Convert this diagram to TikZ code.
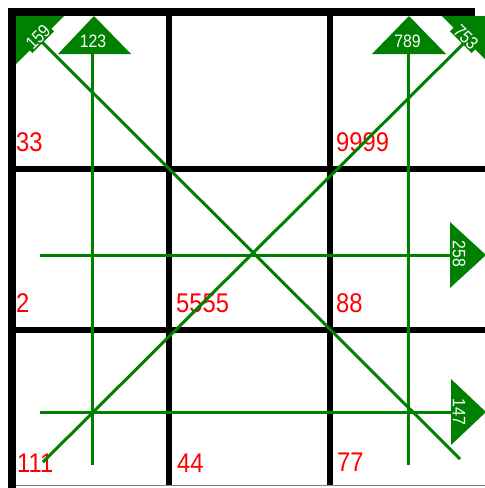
\documentclass[tikz,border=0pt]{standalone}
\usepackage{fontspec}
\newfontfamily\labfont[FakeStretch=0.88]{Liberation Sans}
\definecolor{gr}{RGB}{0,128,0}
\tikzset{
  cellnum/.style={anchor=base west, inner sep=0pt, text=red, font=\labfont\fontsize{27}{27}\selectfont},
  arrlbl/.style={inner sep=0pt, text=white, font=\labfont\fontsize{18}{18}\selectfont},
  arrlblbox/.style={inner xsep=2pt, inner ysep=1pt, fill=gr, text=white, font=\labfont\fontsize{18}{18}\selectfont},
  gline/.style={draw=gr, line width=3pt},
  ghead/.style={fill=gr},
  gridline/.style={fill=black}
}
\begin{document}
\begin{tikzpicture}[x=1pt,y=-1pt]
\useasboundingbox (0,0) rectangle (485,488);
\fill[white] (0,0) rectangle (485,488);
\clip (0,0) rectangle (485,488);
% grid
\fill[gridline] (8,8) rectangle (16,488);
\fill[gridline] (8,8) rectangle (475,16);
\fill[gridline] (166,16) rectangle (172,485);
\fill[gridline] (327,16) rectangle (333,485);
\fill[gridline] (16,166) rectangle (485,172);
\fill[gridline] (16,327) rectangle (485,333);
\draw[gray, line width=1pt] (16,485.5) -- (485,485.5);
% cell numbers
\node[cellnum] (n33) at (16,151) {33};
\node[cellnum] (n9999) at (336,151) {9999};
\node[cellnum] (n2) at (16,312) {2};
\node[cellnum] (n5555) at (176,312) {5555};
\node[cellnum] (n88) at (336,312) {88};
\node[cellnum] (n111) at (17,472) {111};
\node[cellnum] (n44) at (177,472) {44};
\node[cellnum] (n77) at (337,471) {77};
% coordinates
\coordinate (v1top) at (92,54);
\coordinate (v1bot) at (92,465);
\coordinate (v3top) at (408,54);
\coordinate (v3bot) at (408,465);
\coordinate (h2l) at (40,255);
\coordinate (h2r) at (452,255);
\coordinate (h3l) at (40,412);
\coordinate (h3r) at (452,412);
\coordinate (dAend) at (460,459);
\coordinate (dAtip) at (42,42);
\coordinate (dBend) at (43,462);
\coordinate (dBtip) at (465,42);
% lines
\draw[gline] (v1bot) -- (v1top);
\draw[gline] (v3bot) -- (v3top);
\draw[gline] (h2l) -- (h2r);
\draw[gline] (h3l) -- (h3r);
\draw[gline] (dAend) -- (dAtip);
\draw[gline] (dBend) -- (dBtip);
% heads
\fill[ghead] (94,16) -- (131,54) -- (58,54) -- cycle;
\fill[ghead] (409,16) -- (446,54) -- (372,54) -- cycle;
\fill[ghead] (486,255) -- (450,222) -- (450,288) -- cycle;
\fill[ghead] (486,412) -- (451,379) -- (451,445) -- cycle;
\fill[ghead] (16,16) -- (64,16) -- (16,64) -- cycle;
\fill[ghead] (490,16) -- (442,16) -- (490,64) -- cycle;
% head labels
\node[arrlbl] (l123) at (93,41.5) {123};
\node[arrlbl] (l789) at (407.5,41.5) {789};
\node[arrlblbox, rotate=-90] (l258) at (459,254) {258};
\node[arrlblbox, rotate=-90] (l147) at (459,412) {147};
\node[arrlblbox, rotate=45] (l159) at (38,37) {159};
\node[arrlblbox, rotate=-45] (l753) at (466,37) {753};
\end{tikzpicture}
\end{document}
